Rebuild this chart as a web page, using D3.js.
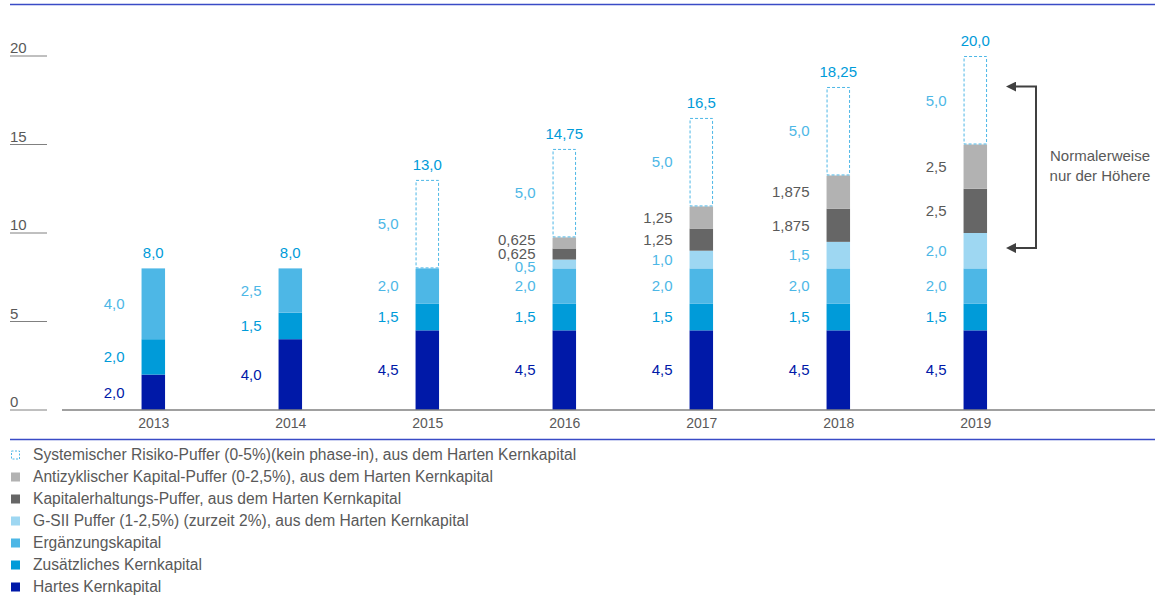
<!DOCTYPE html>
<html>
<head>
<meta charset="utf-8">
<script src="https://cdn.jsdelivr.net/npm/d3@7"></script>
<style>
  body { margin: 0; background: #fff; }
  svg { font-family: "Liberation Sans", Arial, sans-serif; }
</style>
</head>
<body>
<div id="chart"></div>
<script>
// Kapitalanforderungen nach Jahr (in %)
const years = ['2013', '2014', '2015', '2016', '2017', '2018', '2019'];
const hartesKernkapital = [2.0, 4.0, 4.5, 4.5, 4.5, 4.5, 4.5];
const zusKernkapital = [2.0, 1.5, 1.5, 1.5, 1.5, 1.5, 1.5];
const ergaenzung = [4.0, 2.5, 2.0, 2.0, 2.0, 2.0, 2.0];
const gsii = [0, 0, 0, 0.5, 1.0, 1.5, 2.0];
const kapErhaltung = [0, 0, 0, 0.625, 1.25, 1.875, 2.5];
const antizyklisch = [0, 0, 0, 0.625, 1.25, 1.875, 2.5];
const systemisch = [0, 0, 5.0, 5.0, 5.0, 5.0, 5.0];
const totals = ['8,0', '8,0', '13,0', '14,75', '16,5', '18,25', '20,0'];
const yTicks = [0, 5, 10, 15, 20];

const series = [
  { key: 'hart', name: 'Hartes Kernkapital', values: hartesKernkapital, fill: '#0019a8', label: '#0019a8' },
  { key: 'zus', name: 'Zusätzliches Kernkapital', values: zusKernkapital, fill: '#009bd9', label: '#009bd9' },
  { key: 'erg', name: 'Ergänzungskapital', values: ergaenzung, fill: '#4db7e6', label: '#4db7e6' },
  { key: 'gsii', name: 'G-SII Puffer (1-2,5%) (zurzeit 2%), aus dem Harten Kernkapital', values: gsii, fill: '#9ed7f2', label: '#4db7e6' },
  { key: 'kap', name: 'Kapitalerhaltungs-Puffer, aus dem Harten Kernkapital', values: kapErhaltung, fill: '#666666', label: '#595959' },
  { key: 'anti', name: 'Antizyklischer Kapital-Puffer (0-2,5%), aus dem Harten Kernkapital', values: antizyklisch, fill: '#b2b2b2', label: '#595959' },
  { key: 'sys', name: 'Systemischer Risiko-Puffer (0-5%)(kein phase-in), aus dem Harten Kernkapital', values: systemisch, fill: 'none', label: '#4db7e6', dashed: true }
];

const W = 1165, H = 595;
const svg = d3.select('#chart').append('svg')
  .attr('width', W)
  .attr('height', H);

const x = d3.scalePoint().domain(years).range([153.3, 975.3]);
const y = d3.scaleLinear().domain([0, 20]).range([410, 56]);
const barW = 23.5;

const fmt = v => {
  let s = String(v);
  if (Number.isInteger(v)) s = v.toFixed(1);
  return s.replace('.', ',');
};

// Linien oben und unten
svg.append('line').attr('x1', 10).attr('x2', 1155).attr('y1', 4.5).attr('y2', 4.5)
  .attr('stroke', '#3a4bc6').attr('stroke-width', 1.5);
svg.append('line').attr('x1', 10).attr('x2', 1155).attr('y1', 439.5).attr('y2', 439.5)
  .attr('stroke', '#3a4bc6').attr('stroke-width', 1.5);

// Y-Achse (Beschriftungen mit Unterstrich)
const yAxis = svg.append('g').attr('class', 'y-axis');
yTicks.forEach(t => {
  yAxis.append('line')
    .attr('x1', 10).attr('x2', 47)
    .attr('y1', y(t)).attr('y2', y(t))
    .attr('stroke', '#808080').attr('stroke-width', 1);
  yAxis.append('text')
    .attr('x', 10).attr('y', y(t) - 3)
    .style('font-size', '15px').style('fill', '#595959')
    .text(t);
});

// X-Achse
svg.append('g')
  .attr('transform', 'translate(0,410)')
  .call(d3.axisBottom(x).tickSize(0).tickPadding(8))
  .call(g => g.select('.domain').remove())
  .call(g => g.selectAll('text').style('font-size', '14px').style('fill', '#595959'))
  .attr('font-family', null);

// Balken
const stack = d3.stack()
  .keys(series.map(s => s.key))
  .value((d, k) => d[k]);

const table = years.map((yr, i) => {
  const row = { year: yr };
  series.forEach(s => { row[s.key] = s.values[i]; });
  return row;
});
const stacked = stack(table);

const labels = [];
stacked.forEach((layer, li) => {
  const s = series[li];
  const g = svg.append('g');
  layer.forEach((seg, i) => {
    const v = seg[1] - seg[0];
    if (v <= 0) return;
    const cx = x(years[i]);
    const rect = g.append('rect')
      .attr('x', cx - barW / 2)
      .attr('y', y(seg[1]))
      .attr('width', barW)
      .attr('height', y(seg[0]) - y(seg[1]));
    if (s.dashed) {
      rect.attr('x', cx - barW / 2 + 0.5).attr('width', barW - 1)
        .attr('y', y(seg[1]) + 0.5).attr('height', y(seg[0]) - y(seg[1]) - 1)
        .attr('fill', 'none').attr('stroke', '#4db7e6')
        .attr('stroke-width', 1).attr('stroke-dasharray', '3,2');
    } else {
      rect.attr('fill', s.fill);
    }
    labels.push({ i, cx, yy: y((seg[0] + seg[1]) / 2), text: fmt(v), color: s.label });
  });
});

// Beschriftungen auseinanderschieben, wenn sie sich überlappen
years.forEach((yr, i) => {
  const ls = labels.filter(l => l.i === i).sort((a, b) => b.yy - a.yy);
  for (let it = 0; it < 30; it++) {
    for (let k = 0; k < ls.length - 1; k++) {
      const gap = ls[k].yy - ls[k + 1].yy;
      if (gap < 13.5) {
        const d = (13.5 - gap) / 2;
        ls[k].yy += d;
        ls[k + 1].yy -= d;
      }
    }
  }
});

svg.append('g').selectAll('text')
  .data(labels)
  .enter()
  .append('text')
  .attr('x', d => d.cx - barW / 2 - 17)
  .attr('y', d => d.yy)
  .attr('dy', '0.35em')
  .attr('text-anchor', 'end')
  .style('font-size', '15px')
  .style('fill', d => d.color)
  .text(d => d.text);

// Summen über den Balken
svg.selectAll('.total')
  .data(years)
  .enter()
  .append('text')
  .attr('class', 'total')
  .attr('x', d => x(d))
  .attr('y', (d, i) => y(d3.sum(series, s => s.values[i])) - 10)
  .attr('text-anchor', 'middle')
  .style('font-size', '15px')
  .style('fill', '#009bd9')
  .text((d, i) => totals[i]);

// Grundlinie
svg.append('line').attr('x1', 62).attr('x2', 1155).attr('y1', 410).attr('y2', 410)
  .attr('stroke', '#808080').attr('stroke-width', 1.5);

// Annotation: Klammer mit Pfeilen
const annTop = 18.27, annBottom = 9.15;
const bx = 1036, ax = 1009;
svg.append('defs').append('marker')
  .attr('id', 'arrow')
  .attr('viewBox', '0 0 10 10')
  .attr('refX', 1).attr('refY', 5)
  .attr('markerWidth', 5).attr('markerHeight', 5)
  .attr('orient', 'auto-start-reverse')
  .append('path').attr('d', 'M0,0 L10,5 L0,10 z').attr('fill', '#404040');

svg.append('path')
  .attr('d', `M${ax + 6},${y(annTop)} L${bx},${y(annTop)} L${bx},${y(annBottom)} L${ax + 6},${y(annBottom)}`)
  .attr('fill', 'none')
  .attr('stroke', '#404040')
  .attr('stroke-width', 2)
  .attr('marker-start', 'url(#arrow)')
  .attr('marker-end', 'url(#arrow)');

const ann = svg.append('text')
  .attr('x', 1100).attr('y', 161)
  .attr('text-anchor', 'middle')
  .style('font-size', '15px')
  .style('fill', '#595959');
ann.append('tspan').attr('x', 1100).text('Normalerweise');
ann.append('tspan').attr('x', 1100).attr('dy', 20).text('nur der Höhere');

// Legende
const legendOrder = series.slice().reverse();
const legend = svg.append('g').attr('transform', 'translate(11,455)');
legendOrder.forEach((s, i) => {
  const row = legend.append('g').attr('transform', `translate(0,${i * 22})`);
  const sq = row.append('rect').attr('x', 0).attr('y', -4.5).attr('width', 9).attr('height', 9);
  if (s.dashed) {
    sq.attr('x', 0.5).attr('y', -4).attr('width', 8).attr('height', 8)
      .attr('fill', 'none').attr('stroke', '#4db7e6').attr('stroke-dasharray', '2,1.5');
  } else {
    sq.attr('fill', s.fill);
  }
  row.append('text')
    .attr('x', 22).attr('y', 0).attr('dy', '0.35em')
    .style('font-size', '15.6px').style('fill', '#595959')
    .text(s.name);
});
</script>
</body>
</html>
